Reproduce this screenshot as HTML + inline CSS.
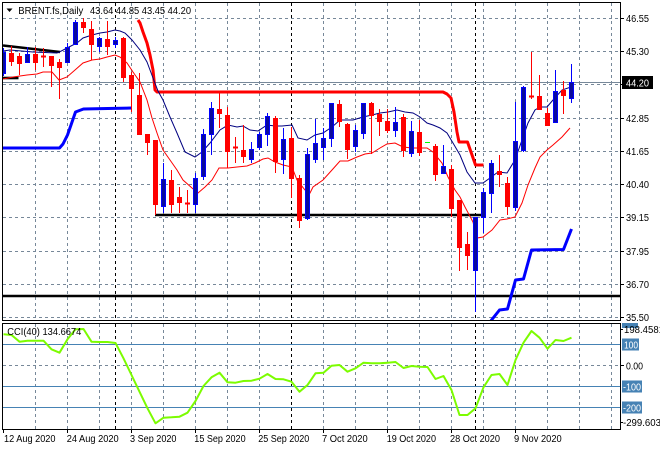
<!DOCTYPE html>
<html><head><meta charset="utf-8"><style>
html,body{margin:0;padding:0;background:#fff;}
svg{display:block;}
text{font-family:"Liberation Sans",sans-serif;font-size:10px;}
</style></head><body>
<svg width="660" height="450" viewBox="0 0 660 450" xmlns="http://www.w3.org/2000/svg">
<defs>
<clipPath id="cm"><rect x="3" y="3" width="617" height="317"/></clipPath>
<clipPath id="cc"><rect x="3" y="324" width="617" height="105"/></clipPath>
</defs>
<rect width="660" height="450" fill="#fff"/>
<g stroke="#778899" stroke-width="1" stroke-dasharray="3,3" fill="none">
<path d="M3 18.5H620M3 51.5H620M3 84.5H620M3 118.5H620M3 151.5H620M3 184.5H620M3 217.5H620M3 251.5H620M3 284.5H620M3 317.5H620"/>
<path d="M35.5 3V320M67.5 3V320M99.5 3V320M131.5 3V320M163.5 3V320M195.5 3V320M227.5 3V320M259.5 3V320M323.5 3V320M355.5 3V320M387.5 3V320M419.5 3V320M451.5 3V320M483.5 3V320M515.5 3V320M547.5 3V320M579.5 3V320M611.5 3V320"/>
<path d="M3 365.5H620"/>
<path d="M35.5 324V429M67.5 324V429M99.5 324V429M131.5 324V429M163.5 324V429M195.5 324V429M227.5 324V429M259.5 324V429M323.5 324V429M355.5 324V429M387.5 324V429M419.5 324V429M451.5 324V429M483.5 324V429M515.5 324V429M547.5 324V429M579.5 324V429M611.5 324V429"/>
</g>
<g stroke="#000" stroke-width="1" stroke-dasharray="3,3" fill="none">
<path d="M115.5 3V320M291.5 3V320M475.5 3V320M115.5 324V429M291.5 324V429M475.5 324V429"/>
</g>
<path d="M3 82.5H620" stroke="#778899" stroke-width="1"/>
<g clip-path="url(#cm)">
<g stroke="#000" stroke-width="2.6" fill="none">
<path d="M3 45.5L60 52"/>
<path d="M3 78H18.5"/>
<path d="M155 215H482"/>
<path d="M3 296H620"/>
</g>
<polyline fill="none" stroke="#0000ff" stroke-width="3" stroke-linejoin="round" points="3,148 59.5,148 63,144 67.5,135 71,125 75.5,112 83.5,109 107.5,108.5 131.5,108"/>
<polyline fill="none" stroke="#0000ff" stroke-width="3" stroke-linejoin="round" points="483.5,335 491.5,320 499.5,310 507.5,309 515.5,280 523.5,279 531.5,250 563.5,249.5 571.5,229"/>
<polyline fill="none" stroke="#ff0000" stroke-width="3" stroke-linejoin="round" points="138,20 140,23 143,32 147,43 150,55 153,70 155,90 157,92 443,92 447,94 451,98 454,112 457,132 459,142 467.5,142 475.5,165 483.5,165"/>
<polyline fill="none" stroke="#000080" stroke-width="1" points="3,51 10,50 33,52 57,53 60,51.7 67,48 77,43 83,38 92,35 100,33 107,32 115,30 120,31 125,33 132,40 140,50 147,62 153,78 158,91 163,100 170,117 177,133 185,152 195,157 202,152 210,143 220,130 228,125 237,127 243,126 250,130 258,131 267,125 275,126 282,126 292,125 298,138 307,140 315,135 323,133 332,127 340,120 353,120 363,117 372,115 380,113 388,112 397,110 405,112 413,113 420,117 427,123 433,125 440,128 447,133 453,143 460,155 467,172 475,183 483,183 490,178 498,172 507,173 515,160 522,140 528,123 535,110 540,107 547,107 553,100 562,90 571,87"/>
<polyline fill="none" stroke="#ff0000" stroke-width="1" points="3,79 13,77 27,75 37,74 43,72 52,72 59,80 67,77 75,70 83,63 92,60 100,59 107,57 115,55 120,57 127,63 133,72 140,82 147,100 152,118 157,133 163,150 170,160 177,170 183,180 192,188 198,193 205,187 212,180 219,168 228,168 237,167 247,166 255,163 263,159 268,158 275,162 283,165 292,167 297,180 305,190 310,193 313,187 323,180 332,170 340,161 348,161 357,157 365,154 372,153 380,148 387,144 395,143 403,147 412,148 418,148 427,148 433,152 442,163 448,177 455,190 460,197 465,207 473,222 477,238 483,237 492,230 500,220 507,219 515,217 522,203 528,185 535,168 540,157 547,150 553,145 562,137 570,128"/>
<g stroke="#0000ff" stroke-width="1" fill="#0a0a9c">
<path fill="none" d="M3.5 48V76M27.5 47V63M67.5 43V63M75.5 20V45M99.5 37V52M115.5 37V48M163.5 163V213M195.5 173V213M203.5 129V180M211.5 102V155M251.5 142V163M259.5 132V150M267.5 113V146M283.5 128V174M307.5 148V220M315.5 119V163M323.5 128V160M331.5 103V147M355.5 125V152M363.5 103V139M395.5 107V137M411.5 121V157M443.5 145V174M475.5 217V312M483.5 188V233M491.5 160V213M515.5 102V211M523.5 86V152M555.5 70V123M571.5 64V103"/>
<rect x="1.5" y="52.5" width="4" height="21"/>
<rect x="25.5" y="54.5" width="4" height="8"/>
<rect x="65.5" y="47.5" width="4" height="15"/>
<rect x="73.5" y="22.5" width="4" height="22"/>
<rect x="97.5" y="38.5" width="4" height="8"/>
<rect x="113.5" y="40.5" width="4" height="4"/>
<rect x="161.5" y="179.5" width="4" height="27"/>
<rect x="193.5" y="178.5" width="4" height="26"/>
<rect x="201.5" y="134.5" width="4" height="42"/>
<rect x="209.5" y="108.5" width="4" height="26"/>
<rect x="249.5" y="149.5" width="4" height="10"/>
<rect x="257.5" y="134.5" width="4" height="13"/>
<rect x="265.5" y="116.5" width="4" height="18"/>
<rect x="281.5" y="139.5" width="4" height="20"/>
<rect x="305.5" y="154.5" width="4" height="64"/>
<rect x="313.5" y="143.5" width="4" height="16"/>
<rect x="321.5" y="138.5" width="4" height="9"/>
<rect x="329.5" y="103.5" width="4" height="35"/>
<rect x="353.5" y="130.5" width="4" height="16"/>
<rect x="361.5" y="103.5" width="4" height="30"/>
<rect x="393.5" y="122.5" width="4" height="8"/>
<rect x="409.5" y="131.5" width="4" height="22"/>
<rect x="441.5" y="166.5" width="4" height="7"/>
<rect x="473.5" y="217.5" width="4" height="53"/>
<rect x="481.5" y="192.5" width="4" height="25"/>
<rect x="489.5" y="163.5" width="4" height="30"/>
<rect x="513.5" y="141.5" width="4" height="66"/>
<rect x="521.5" y="87.5" width="4" height="63"/>
<rect x="553.5" y="91.5" width="4" height="31"/>
<rect x="569.5" y="82.5" width="4" height="16"/>
</g>
<g stroke="#ff0000" stroke-width="1" fill="#ff0000">
<path fill="none" d="M11.5 46V66M19.5 53V75M35.5 47V70M43.5 48V67M51.5 56V87M59.5 59V99M83.5 18V33M91.5 21V60M107.5 21V55M123.5 37V82M131.5 72V112M139.5 73V134M147.5 134V155M155.5 140V215M171.5 170V213M179.5 187V213M187.5 190V213M219.5 93V128M227.5 107V168M235.5 137V163M243.5 125V163M275.5 116V173M291.5 127V198M299.5 175V228M339.5 100V127M347.5 123V159M371.5 102V154M379.5 109V136M387.5 109V133M403.5 114V157M419.5 120V156M435.5 144V181M451.5 165V217M459.5 200V271M467.5 232V270M499.5 155V187M507.5 177V215M531.5 52V99M539.5 75V110M547.5 108V125M563.5 81V114"/>
<rect x="9.5" y="53.5" width="4" height="8"/>
<rect x="17.5" y="56.5" width="4" height="7"/>
<rect x="33.5" y="54.5" width="4" height="8"/>
<rect x="41.5" y="56" width="4" height="1"/>
<rect x="49.5" y="56.5" width="4" height="9"/>
<rect x="57.5" y="62.5" width="4" height="5"/>
<rect x="81.5" y="22.5" width="4" height="5"/>
<rect x="89.5" y="29.5" width="4" height="15"/>
<rect x="105.5" y="39.5" width="4" height="7"/>
<rect x="121.5" y="38.5" width="4" height="39"/>
<rect x="129.5" y="75.5" width="4" height="13"/>
<rect x="137.5" y="95.5" width="4" height="39"/>
<rect x="145.5" y="134.5" width="4" height="8"/>
<rect x="153.5" y="140.5" width="4" height="64"/>
<rect x="169.5" y="180.5" width="4" height="24"/>
<rect x="177.5" y="197.5" width="4" height="5"/>
<rect x="185.5" y="203" width="4" height="1"/>
<rect x="217.5" y="109.5" width="4" height="4"/>
<rect x="225.5" y="115.5" width="4" height="36"/>
<rect x="233.5" y="147" width="4" height="1"/>
<rect x="241.5" y="150.5" width="4" height="6"/>
<rect x="273.5" y="118.5" width="4" height="43"/>
<rect x="289.5" y="138.5" width="4" height="40"/>
<rect x="297.5" y="178.5" width="4" height="42"/>
<rect x="337.5" y="104.5" width="4" height="17"/>
<rect x="345.5" y="124.5" width="4" height="25"/>
<rect x="369.5" y="103.5" width="4" height="12"/>
<rect x="377.5" y="114.5" width="4" height="7"/>
<rect x="385.5" y="121.5" width="4" height="9"/>
<rect x="401.5" y="117.5" width="4" height="33"/>
<rect x="417.5" y="132.5" width="4" height="20"/>
<rect x="433.5" y="146.5" width="4" height="28"/>
<rect x="449.5" y="169.5" width="4" height="39"/>
<rect x="457.5" y="200.5" width="4" height="47"/>
<rect x="465.5" y="244.5" width="4" height="11"/>
<rect x="497.5" y="171.5" width="4" height="3"/>
<rect x="505.5" y="183.5" width="4" height="23"/>
<rect x="529.5" y="96" width="4" height="1"/>
<rect x="537.5" y="96.5" width="4" height="13"/>
<rect x="545.5" y="113.5" width="4" height="12"/>
<rect x="561.5" y="90.5" width="4" height="5"/>
</g>
<path d="M425 142.5H430" stroke="#00ff00" stroke-width="1"/>
</g>
<g stroke="#4682b4" stroke-width="1">
<path d="M3 344.5H620M3 386.5H620M3 407.5H620"/>
</g>
<g clip-path="url(#cc)">
<polyline fill="none" stroke="#7cfc00" stroke-width="2" stroke-linejoin="round" points="3.5,334.3 11.5,335 19.5,341.7 27.5,340.7 35.5,340.7 43.5,340.7 51.5,349.3 59.5,352.7 67.5,339.3 75.5,329.3 83.5,329 91.5,341.7 99.5,342 107.5,342 115.5,343 123.5,358.3 131.5,375 139.5,391.7 147.5,408.3 155.5,423.3 163.5,417.7 171.5,417.3 179.5,416.7 187.5,412.7 195.5,401 203.5,386 211.5,377.3 219.5,372.7 227.5,382.3 235.5,382.7 243.5,381 251.5,380.7 259.5,378.7 267.5,374 275.5,379 283.5,379.3 291.5,381.7 299.5,391.7 307.5,385 315.5,373.3 323.5,372.7 331.5,365.7 339.5,365 347.5,371.7 355.5,368.3 363.5,362.7 371.5,363.3 379.5,363.3 387.5,362.7 395.5,362 403.5,368 411.5,366 419.5,366.7 427.5,367 435.5,379 443.5,376 451.5,390 459.5,415 467.5,415 475.5,408.3 483.5,387.3 491.5,375 499.5,374 507.5,385 515.5,360 523.5,342.7 531.5,331 539.5,337.7 547.5,348.7 555.5,340 563.5,341 571.5,337.7"/>
</g>
<g stroke="#000" stroke-width="1" fill="none">
<rect x="2.5" y="2.5" width="618" height="318"/>
<rect x="2.5" y="323.5" width="618" height="106"/>
</g>
<g stroke="#000" stroke-width="1">
<path d="M620 18.5H624M620 51.5H624M620 84.5H624M620 118.5H624M620 151.5H624M620 184.5H624M620 217.5H624M620 251.5H624M620 284.5H624M620 317.5H624M620 365.5H624M620 329.5H623M620 422.5H623"/>
<path d="M3.5 430V433M67.5 430V433M131.5 430V433M195.5 430V433M259.5 430V433M323.5 430V433M387.5 430V433M451.5 430V433M515.5 430V433"/>
</g>
<g fill="#000">
<text x="626" y="22" textLength="23" lengthAdjust="spacingAndGlyphs">46.55</text>
<text x="626" y="55" textLength="23" lengthAdjust="spacingAndGlyphs">45.30</text>
<text x="626" y="88" textLength="23" lengthAdjust="spacingAndGlyphs">44.05</text>
<text x="626" y="122" textLength="23" lengthAdjust="spacingAndGlyphs">42.85</text>
<text x="626" y="155" textLength="23" lengthAdjust="spacingAndGlyphs">41.65</text>
<text x="626" y="188" textLength="23" lengthAdjust="spacingAndGlyphs">40.40</text>
<text x="626" y="221" textLength="23" lengthAdjust="spacingAndGlyphs">39.15</text>
<text x="626" y="255" textLength="23" lengthAdjust="spacingAndGlyphs">37.95</text>
<text x="626" y="288" textLength="23" lengthAdjust="spacingAndGlyphs">36.70</text>
<text x="626" y="321" textLength="23" lengthAdjust="spacingAndGlyphs">35.50</text>
</g>
<rect x="622" y="76" width="31" height="13" fill="#000"/>
<text x="626" y="86.5" fill="#fff" textLength="23" lengthAdjust="spacingAndGlyphs">44.20</text>
<rect x="622" y="323" width="16" height="5" fill="#4682b4"/>
<text x="624" y="333" fill="#000" textLength="40" lengthAdjust="spacingAndGlyphs">198.4581</text>
<rect x="622" y="338.5" width="17" height="12" fill="#4682b4"/>
<text x="624" y="348.5" fill="#fff" textLength="14" lengthAdjust="spacingAndGlyphs">100</text>
<text x="626" y="369.5" fill="#000" textLength="17" lengthAdjust="spacingAndGlyphs">0.00</text>
<rect x="622" y="380.5" width="20" height="12" fill="#4682b4"/>
<text x="623" y="390.5" fill="#fff" textLength="18" lengthAdjust="spacingAndGlyphs">-100</text>
<rect x="622" y="401.5" width="20" height="12" fill="#4682b4"/>
<text x="623" y="411.5" fill="#fff" textLength="18" lengthAdjust="spacingAndGlyphs">-200</text>
<text x="623" y="426" fill="#000" textLength="38" lengthAdjust="spacingAndGlyphs">-299.603</text>
<polygon points="6.5,8.5 12.5,8.5 9.5,12" fill="#000"/>
<text x="18.3" y="14" fill="#000" textLength="65" lengthAdjust="spacingAndGlyphs">BRENT.fs,Daily</text>
<text x="90" y="14" fill="#000" textLength="101" lengthAdjust="spacingAndGlyphs">43.64 44.85 43.45 44.20</text>
<text x="7.3" y="335" fill="#000" textLength="74" lengthAdjust="spacingAndGlyphs">CCI(40) 134.6674</text>
<g fill="#000">
<text x="4" y="442" textLength="51.5" lengthAdjust="spacingAndGlyphs">12 Aug 2020</text>
<text x="66.7" y="442" textLength="52" lengthAdjust="spacingAndGlyphs">24 Aug 2020</text>
<text x="130" y="442" textLength="46.5" lengthAdjust="spacingAndGlyphs">3 Sep 2020</text>
<text x="194.3" y="442" textLength="51.3" lengthAdjust="spacingAndGlyphs">15 Sep 2020</text>
<text x="258.3" y="442" textLength="51" lengthAdjust="spacingAndGlyphs">25 Sep 2020</text>
<text x="322" y="442" textLength="45.7" lengthAdjust="spacingAndGlyphs">7 Oct 2020</text>
<text x="386.7" y="442" textLength="49.3" lengthAdjust="spacingAndGlyphs">19 Oct 2020</text>
<text x="450" y="442" textLength="50" lengthAdjust="spacingAndGlyphs">28 Oct 2020</text>
<text x="514" y="442" textLength="47.7" lengthAdjust="spacingAndGlyphs">9 Nov 2020</text>
</g>
</svg>
</body></html>
